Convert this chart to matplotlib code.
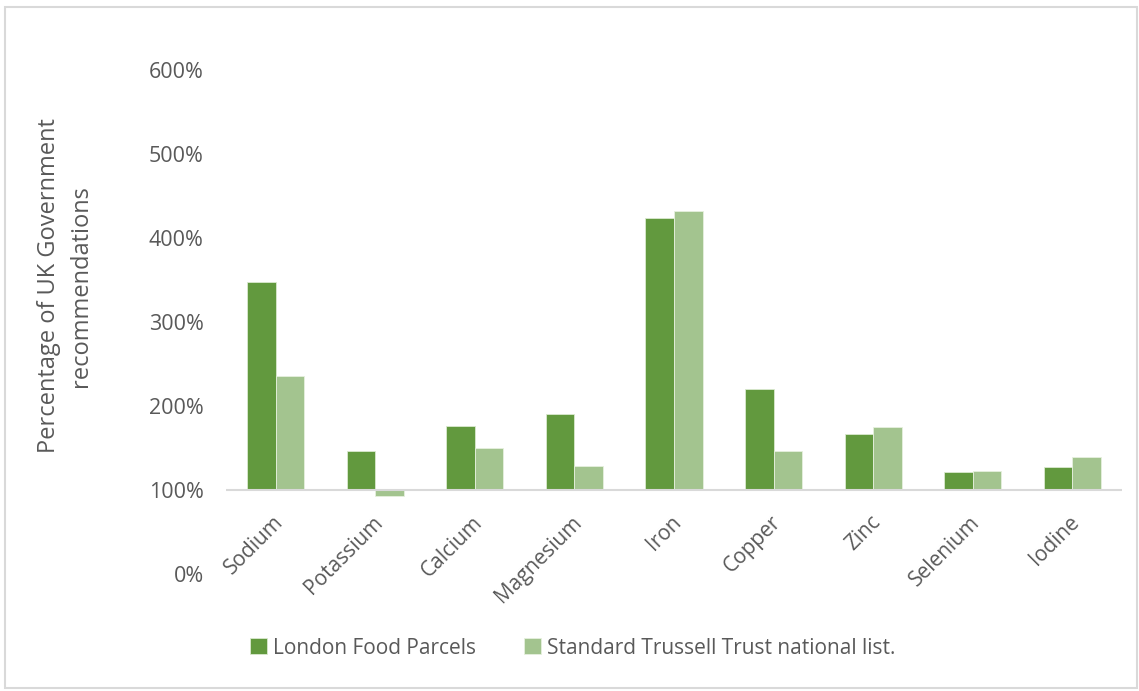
import numpy as np
import matplotlib.pyplot as plt
from matplotlib.patches import Rectangle

plt.rcParams['font.family'] = ['Open Sans', 'DejaVu Sans']

# data (fraction of UK Government recommendation)
nutrients = ["Sodium", "Potassium", "Calcium", "Magnesium", "Iron",
             "Copper", "Zinc", "Selenium", "Iodine"]
london = [3.48, 1.46, 1.76, 1.91, 4.24, 2.20, 1.67, 1.21, 1.27]
standard = [2.36, 0.93, 1.50, 1.29, 4.32, 1.46, 1.75, 1.23, 1.39]
series_names = ["London Food Parcels", "Standard Trussell Trust national list."]
yticks = [0, 1, 2, 3, 4, 5, 6]

dark_green = "#62993e"
light_green = "#a3c48f"
text_col = "#595959"

fig = plt.figure(figsize=(11.39, 6.91), dpi=100)
ax = fig.add_axes([226 / 1139, 1 - 574 / 691, 896 / 1139, 504 / 691])

x = np.arange(len(nutrients))
w = 0.287
base = 1.0  # axis crosses at 100%
ax.bar(x - w / 2, np.array(london) - base, w, bottom=base, color=dark_green,
       edgecolor="#dbe9d0", linewidth=0.6, label=series_names[0], zorder=2)
ax.bar(x + w / 2, np.array(standard) - base, w, bottom=base, color=light_green,
       edgecolor="#e6f0de", linewidth=0.6, label=series_names[1], zorder=2)

ax.axhline(base, color="#d9d9d9", linewidth=1.5, zorder=3)

ax.set_xlim(-0.5, len(nutrients) - 0.5)
ax.set_ylim(0, 6)
ax.set_yticks(yticks)
ax.set_yticklabels([f"{v * 100:.0f}%" for v in yticks])
ax.tick_params(axis="y", length=0, pad=16, labelsize=15.5, labelcolor=text_col)
ax.set_xticks([])
for s in ax.spines.values():
    s.set_visible(False)

# category labels sit under the 100% line
for i, name in enumerate(nutrients):
    ax.annotate(name, xy=(i, base), xytext=(3, -21), textcoords="offset points",
                rotation=45, ha="right", va="center", rotation_mode="anchor",
                fontsize=15, color=text_col)

fig.text(65 / 1139, 1 - 286 / 691, "Percentage of UK Government\nrecommendations",
         rotation=90, ha="center", va="center", fontsize=17, color=text_col,
         multialignment="center", linespacing=1.4)

leg = fig.legend(loc="center", bbox_to_anchor=(573 / 1139, 1 - 648 / 691), ncol=2,
                 frameon=False, fontsize=15, handlelength=0.8, handleheight=0.8,
                 handletextpad=0.3, columnspacing=2.3)
for t in leg.get_texts():
    t.set_color(text_col)

# chart border
fig.patches.append(Rectangle((5 / 1139, 3 / 691), 1132 / 1139, 681 / 691,
                             transform=fig.transFigure, fill=False,
                             edgecolor="#d9d9d9", linewidth=1.5))

fig.savefig("out.png", dpi=100, facecolor="white")
